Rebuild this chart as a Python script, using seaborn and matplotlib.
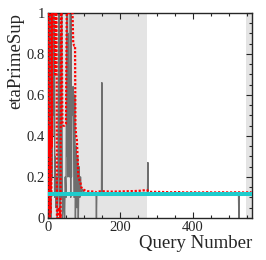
import matplotlib
matplotlib.use("Agg")
import matplotlib.pyplot as plt
import seaborn as sns
from matplotlib.ticker import MultipleLocator

# per-query value (gray), running estimate (red), true value (cyan)
gray_q = [0, 1, 2, 3, 4, 5, 6, 7, 8, 9, 10, 11, 12, 13, 14, 15, 16, 17, 18, 19,
          20, 22, 24, 26, 28, 30, 31, 32, 33, 34, 36, 38, 40, 42, 44, 46, 48, 50,
          52, 53, 54, 55, 56, 58, 60, 62, 63, 64, 65, 66, 68, 70, 72, 74, 76, 78,
          80, 82, 84, 86, 88, 90, 92, 96, 100, 110, 120, 133, 134, 135, 148, 149,
          150, 200, 275, 276, 277, 400, 526, 527, 528, 562]
gray_v = [1.0, 0.0, 1.0, 0.1, 1.0, 0.0, 1.0, 0.3, 1.0, 0.0, 0.9, 0.2, 1.0, 0.4, 1.0, 0.5, 1.0, 0.6, 0.95, 0.1,
          0.3, 0.05, 0.2, 0.0, 0.1, 1.0, 0.2, 1.0, 0.0, 0.9, 0.1, 1.0, 0.0, 0.05, 0.12, 0.0, 0.2, 0.1,
          1.0, 0.3, 1.0, 0.2, 0.9, 0.3, 0.2, 1.0, 0.1, 1.0, 0.2, 0.64, 0.5, 0.64, 0.1, 0.6, 0.0, 0.35,
          0.05, 0.3, 0.0, 0.25, 0.1, 0.2, 0.12, 0.14, 0.12, 0.12, 0.12, 0.12, 0.0, 0.12, 0.12, 0.66,
          0.12, 0.12, 0.12, 0.27, 0.12, 0.12, 0.12, 0.0, 0.12, 0.12]

red_q = [0, 1, 2, 3, 4, 5, 6, 7, 8, 9, 10, 11, 12, 14, 16, 18, 20, 22, 24, 25,
         28, 30, 33, 35, 36, 38, 40, 42, 46, 50, 52, 56, 60, 64, 68, 70, 73, 75,
         76, 78, 80, 82, 84, 86, 88, 90, 92, 95, 100, 105, 110, 120, 130, 135,
         140, 150, 160, 180, 200, 220, 240, 260, 270, 275, 280, 300, 320, 340,
         360, 380, 400, 420, 440, 460, 480, 500, 520, 540, 562]
red_v = [1.0, 0.3, 1.0, 0.05, 0.45, 0.0, 0.42, 0.02, 0.4, 0.1, 1.0, 0.35, 1.0, 1.0, 1.0, 1.0, 0.7, 1.0, 1.0, 0.0,
         0.0, 0.05, 0.03, 0.0, 1.0, 1.0, 0.47, 0.45, 0.45, 0.46, 1.0, 1.0, 1.0, 1.0, 1.0, 0.85, 0.84, 0.84,
         0.45, 0.4, 0.38, 0.3, 0.2, 0.19, 0.18, 0.17, 0.15, 0.142, 0.136, 0.132, 0.13, 0.129, 0.128, 0.124,
         0.129, 0.13, 0.129, 0.128, 0.129, 0.13, 0.131, 0.133, 0.136, 0.134, 0.127, 0.127, 0.126, 0.125,
         0.126, 0.124, 0.125, 0.124, 0.125, 0.124, 0.125, 0.124, 0.125, 0.124, 0.125]

true_q = [0, 562]
true_v = [0.118, 0.118]

shade_spans = [(0, 273), (546, 563)]

sns.set_style("ticks")
plt.rcParams["font.family"] = ["Liberation Serif", "DejaVu Serif"]

fig = plt.figure(figsize=(2.66, 2.60), dpi=100)
ax = fig.add_axes([0.180, 0.162, 0.767, 0.788])

for lo, hi in shade_spans:
    ax.axvspan(lo, hi, color="#e4e4e4", lw=0, zorder=0)

sns.lineplot(x=gray_q, y=gray_v, estimator=None, sort=False, color="#6e6e6e",
             lw=1.0, ax=ax, zorder=2)
sns.lineplot(x=red_q, y=red_v, estimator=None, sort=False, color="red",
             lw=1.6, linestyle=(0, (1, 0.8)), ax=ax, zorder=3)
sns.lineplot(x=true_q, y=true_v, estimator=None, sort=False, color="#1ecccc",
             lw=2.9, ax=ax, zorder=4)

ax.set_xlim(0, 563)
ax.set_ylim(0, 1)
ax.xaxis.set_major_locator(MultipleLocator(200))
ax.xaxis.set_minor_locator(MultipleLocator(50))
ax.yaxis.set_major_locator(MultipleLocator(0.2))
ax.yaxis.set_minor_locator(MultipleLocator(0.05))
ax.set_yticks([0, 0.2, 0.4, 0.6, 0.8, 1.0])
ax.set_yticklabels(["0", "0.2", "0.4", "0.6", "0.8", "1"])
ax.tick_params(which="both", direction="in", top=True, right=True, labelsize=10.5, pad=2)
ax.tick_params(which="major", length=4.5, width=0.8)
ax.tick_params(which="minor", length=2.5, width=0.8)
for s in ax.spines.values():
    s.set_linewidth(1.0)

ax.set_xlabel("Query Number", fontsize=13.5, ha="right", x=1.0, labelpad=1)
ax.set_ylabel("etaPrimeSup", fontsize=13.5, ha="right", y=1.0, labelpad=2)

fig.savefig("out.png", dpi=100)
